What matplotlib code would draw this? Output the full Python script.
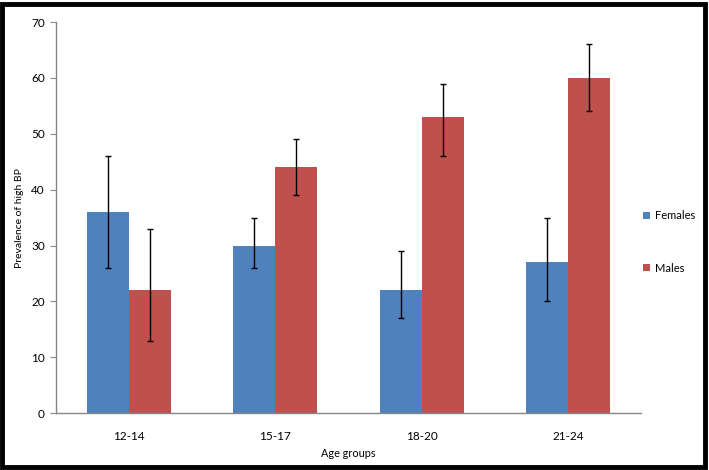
import matplotlib.pyplot as plt
import numpy as np
from matplotlib.patches import Rectangle

groups = ['12-14', '15-17', '18-20', '21-24']
females = [36, 30, 22, 27]
females_lo = [26, 26, 17, 20]
females_hi = [46, 35, 29, 35]
males = [22, 44, 53, 60]
males_lo = [13, 39, 46, 54]
males_hi = [33, 49, 59, 66]

blue = '#4F81BD'
red = '#C0504D'
axis_gray = '#868686'

plt.rcParams['font.family'] = ['Lato', 'DejaVu Sans']

fig = plt.figure(figsize=(7.09, 4.70), dpi=100)
ax = fig.add_axes([0.079, 0.121, 0.825, 0.832])

x = np.arange(len(groups))
w = 0.2877

f_err = [np.array(females) - np.array(females_lo), np.array(females_hi) - np.array(females)]
m_err = [np.array(males) - np.array(males_lo), np.array(males_hi) - np.array(males)]

err_kw = dict(ecolor='black', elinewidth=1, capsize=2.2, capthick=1)
ax.bar(x - w / 2, females, w, color=blue, label='Females', yerr=f_err, error_kw=err_kw)
ax.bar(x + w / 2, males, w, color=red, label='Males', yerr=m_err, error_kw=err_kw)

ax.set_xlim(-0.5, 3.5)
ax.set_ylim(0, 70)
ax.set_yticks(range(0, 71, 10))
ax.set_xticks(x)
ax.set_xticklabels(groups)

for s in ['top', 'right']:
    ax.spines[s].set_visible(False)
for s in ['left', 'bottom']:
    ax.spines[s].set_color(axis_gray)
    ax.spines[s].set_linewidth(1)

ax.tick_params(axis='y', length=4, color=axis_gray, labelsize=8.5, pad=4)
ax.tick_params(axis='x', length=0, labelsize=8.5, pad=13)

ax.set_ylabel('Prevalence of high BP', fontsize=7.5, labelpad=5)
ax.set_xlabel('Age groups', fontsize=7.8, labelpad=4)

leg = fig.legend(loc='center left', bbox_to_anchor=(0.893, 0.485), frameon=False,
                 fontsize=8, handlelength=0.6, handleheight=0.6, handletextpad=0.45,
                 labelspacing=3.7)

# black frame around the whole chart
fig.patches.append(Rectangle((0.003, 0.006), 0.992, 0.986, transform=fig.transFigure,
                             fill=False, edgecolor='black', linewidth=3.5))

fig.savefig('out.png', dpi=100)
